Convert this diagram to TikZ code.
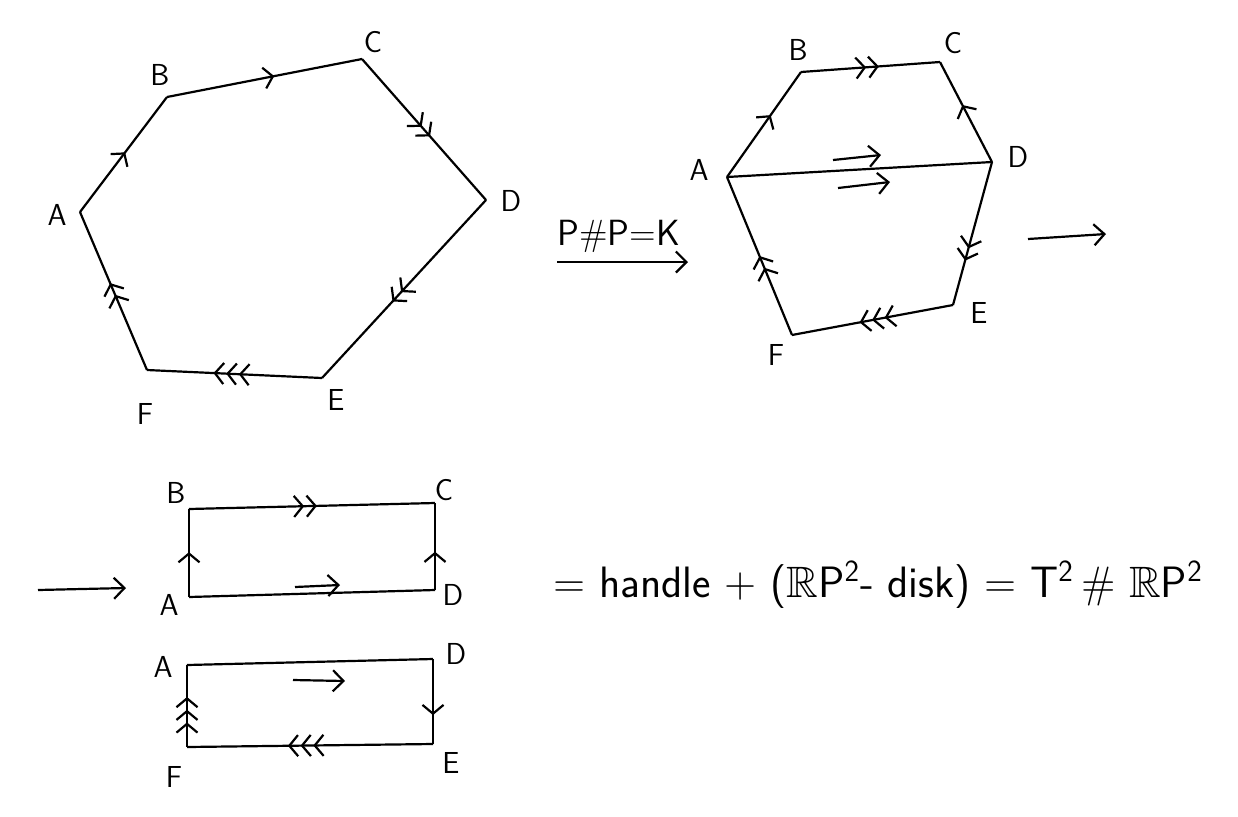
\documentclass[tikz,border=0pt]{standalone}
\usepackage{amsmath,amssymb}
\usetikzlibrary{arrows.meta, decorations.markings, positioning, calc}

\begin{document}
\begin{tikzpicture}[
    x=0.02cm, y=-0.02cm,
    edge/.style={line width=1.25pt, line join=round},
    lbl/.style={font=\sffamily\LARGE, inner sep=0pt},
    one/.style={postaction={decorate, decoration={markings, mark=at position #1 with {\arrow{Straight Barb[length=5pt,width=12pt]}}}}},
    two/.style={postaction={decorate, decoration={markings, mark=at position #1 with {\arrow{Straight Barb[length=5pt,width=12pt,sep=0.8pt] Straight Barb[length=5pt,width=12pt]}}}}},
    three/.style={postaction={decorate, decoration={markings, mark=at position #1 with {\arrow{Straight Barb[length=5pt,width=12pt,sep=0.8pt] Straight Barb[length=5pt,width=12pt,sep=0.8pt] Straight Barb[length=5pt,width=12pt]}}}}},
    arrow/.style={line width=1.25pt, -{Straight Barb[length=6pt,width=12pt]}}
]
\useasboundingbox (0,0) rectangle (1238,816);

% first hexagon
\coordinate (A1) at (80,212);
\coordinate (B1) at (167,97);
\coordinate (C1) at (362,59);
\coordinate (D1) at (486,200);
\coordinate (E1) at (322,378);
\coordinate (F1) at (147,370);
\node[lbl] (lA1) at (57,215) {A};
\node[lbl] (lB1) at (160,75) {B};
\node[lbl] (lC1) at (373,42) {C};
\node[lbl] (lD1) at (511,201) {D};
\node[lbl] (lE1) at (336,400) {E};
\node[lbl] (lF1) at (145,414) {F};

% second hexagon, cut along AD
\coordinate (A2) at (727,177);
\coordinate (B2) at (801,72);
\coordinate (C2) at (940,62);
\coordinate (D2) at (992,162);
\coordinate (E2) at (953,305);
\coordinate (F2) at (792,335);
\node[lbl] (lA2) at (699,170) {A};
\node[lbl] (lB2) at (798,50) {B};
\node[lbl] (lC2) at (953,43) {C};
\node[lbl] (lD2) at (1018,157) {D};
\node[lbl] (lE2) at (979,313) {E};
\node[lbl] (lF2) at (776,355) {F};

% upper rectangle
\coordinate (A3) at (189,597);
\coordinate (B3) at (189,509);
\coordinate (C3) at (435,503);
\coordinate (D3) at (435,590);
\node[lbl] (lA3) at (169,605) {A};
\node[lbl] (lB3) at (176,493) {B};
\node[lbl] (lC3) at (444,490) {C};
\node[lbl] (lD3) at (453,595) {D};

% lower rectangle
\coordinate (A4) at (187,665);
\coordinate (D4) at (433,659);
\coordinate (E4) at (433,744);
\coordinate (F4) at (187,747);
\node[lbl] (lA4) at (163,667) {A};
\node[lbl] (lD4) at (456,654) {D};
\node[lbl] (lE4) at (451,763) {E};
\node[lbl] (lF4) at (174,777) {F};

% step arrows and texts
\coordinate (k1) at (557,262);
\coordinate (k2) at (688,262);
\node[font=\sffamily\huge, inner sep=0pt, anchor=base west] (pk) at (557,245) {P\#P=K};
\coordinate (r1) at (1028,239);
\coordinate (r2) at (1106,234);
\coordinate (s1) at (38,590);
\coordinate (s2) at (126,588);
\node[font=\sffamily\fontsize{25}{30}\selectfont, inner sep=0pt, anchor=base west] (eqn) at (553,597)
    {= handle + ($\mathbb{R}$P\textsuperscript{2}- disk) = T\textsuperscript{2}\,\# $\mathbb{R}$P\textsuperscript{2}};

% glued edge marks
\coordinate (g1) at (833,160);
\coordinate (g2) at (881,155);
\coordinate (g3) at (838,188);
\coordinate (g4) at (890,182);
\coordinate (g5) at (295,587);
\coordinate (g6) at (340,585);
\coordinate (g7) at (293,680);
\coordinate (g8) at (345,681);

% Connectors
\draw[edge, one=0.52] (A1) -- (B1);
\draw[edge, one=0.55] (B1) -- (C1);
\draw[edge, two=0.55] (C1) -- (D1);
\draw[edge, two=0.57] (D1) -- (E1);
\draw[edge, three=0.62] (E1) -- (F1);
\draw[edge, two=0.55] (F1) -- (A1);

\draw[edge, one=0.59] (A2) -- (B2);
\draw[edge, two=0.56] (B2) -- (C2);
\draw[edge, one=0.57] (D2) -- (C2);
\draw[edge, two=0.69] (D2) -- (E2);
\draw[edge, three=0.58] (E2) -- (F2);
\draw[edge, two=0.5] (F2) -- (A2);
\draw[edge] (A2) -- (D2);

\draw[edge, one=0.51] (A3) -- (B3);
\draw[edge, two=0.52] (B3) -- (C3);
\draw[edge, one=0.44] (D3) -- (C3);
\draw[edge] (A3) -- (D3);

\draw[edge] (A4) -- (D4);
\draw[edge, one=0.66] (D4) -- (E4);
\draw[edge, three=0.59] (E4) -- (F4);
\draw[edge, three=0.61] (F4) -- (A4);

\draw[arrow] (k1) -- (k2);
\draw[arrow] (r1) -- (r2);
\draw[arrow] (s1) -- (s2);
\draw[arrow] (g1) -- (g2);
\draw[arrow] (g3) -- (g4);
\draw[arrow] (g5) -- (g6);
\draw[arrow] (g7) -- (g8);

\end{tikzpicture}
\end{document}
